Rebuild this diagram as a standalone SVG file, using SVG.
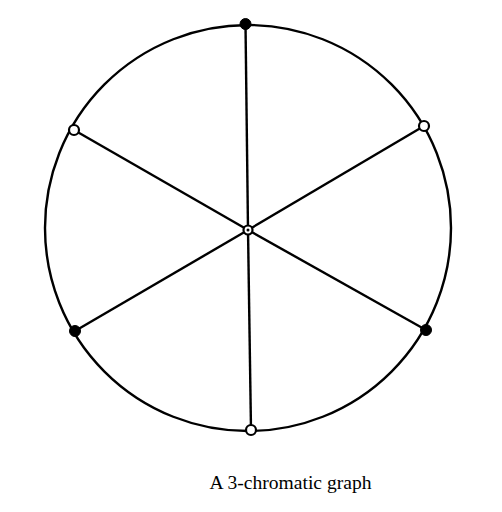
<svg xmlns="http://www.w3.org/2000/svg" width="502" height="512" viewBox="0 0 502 512">
<style>
.e{stroke:#000;stroke-width:2.4;fill:none}
.w{fill:#fff;stroke:#000;stroke-width:2.2}
.b{fill:#000;stroke:#000;stroke-width:1}
.t{font-family:"Liberation Serif","Times New Roman",serif;font-size:19.5px;fill:#000}
</style>
<rect width="502" height="512" fill="#fff"/>
<g id="connectors">
<circle class="e" cx="248" cy="228" r="203"/>
<line class="e" x1="248" y1="230" x2="245.5" y2="24"/>
<line class="e" x1="248" y1="230" x2="251" y2="430"/>
<line class="e" x1="248" y1="230" x2="74" y2="130"/>
<line class="e" x1="248" y1="230" x2="424" y2="126"/>
<line class="e" x1="248" y1="230" x2="75" y2="331"/>
<line class="e" x1="248" y1="230" x2="426" y2="330"/>
</g>
<g id="n-top"><circle class="b" cx="245.5" cy="24" r="5.5"/></g>
<g id="n-ur"><circle class="w" cx="424" cy="126" r="5"/></g>
<g id="n-lr"><circle class="b" cx="426" cy="330" r="5.5"/></g>
<g id="n-bottom"><circle class="w" cx="251" cy="430" r="5"/></g>
<g id="n-ll"><circle class="b" cx="75" cy="331" r="5.5"/></g>
<g id="n-ul"><circle class="w" cx="74" cy="130" r="5"/></g>
<g id="n-center"><circle class="w" cx="248" cy="230" r="4.5"/><circle cx="248" cy="230" r="1.5" fill="#000"/></g>
<text class="t" x="209.5" y="489" textLength="162" lengthAdjust="spacingAndGlyphs">A 3-chromatic graph</text>
</svg>
